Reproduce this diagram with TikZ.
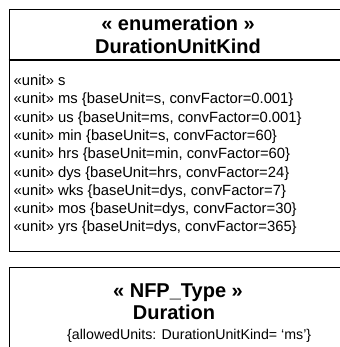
\documentclass[tikz,border=0pt]{standalone}
\usepackage{fontspec}
\setmainfont{Liberation Sans}
\begin{document}
\begin{tikzpicture}[x=1pt,y=-1pt,
  box/.style={draw=black,line width=1.3pt,rectangle,inner sep=0pt,anchor=north west},
  head/.style={font=\fontsize{20}{24}\selectfont\bfseries,inner sep=0pt,anchor=base},
  item/.style={font=\fontsize{14.8}{17}\selectfont,inner sep=0pt,anchor=base west},
  note/.style={font=\fontsize{14.2}{17}\selectfont,inner sep=0pt,anchor=base west}]
\useasboundingbox (0,0) rectangle (339,347);
% enumeration box
\node[box,minimum width=339pt,minimum height=242pt] (enum) at (8.5,9) {};
\coordinate (divL) at (8.5,60);
\coordinate (divR) at (347.5,60);
\draw[line width=1.3pt] (divL) -- (divR);
\node[head] (st1) at (178,31) {« enumeration »};
\node[head] (nm1) at (178,54) {DurationUnitKind};
\node[item] (l1) at (13.5,85.5) {«unit» s};
\node[item] (l2) at (13.5,103.8) {«unit» ms \{baseUnit=s, convFactor=0.001\}};
\node[item] (l3) at (13.5,122.1) {«unit» us \{baseUnit=ms, convFactor=0.001\}};
\node[item] (l4) at (13.5,140.4) {«unit» min \{baseUnit=s, convFactor=60\}};
\node[item] (l5) at (13.5,158.7) {«unit» hrs \{baseUnit=min, convFactor=60\}};
\node[item] (l6) at (13.5,177.0) {«unit» dys \{baseUnit=hrs, convFactor=24\}};
\node[item] (l7) at (13.5,195.3) {«unit» wks \{baseUnit=dys, convFactor=7\}};
\node[item] (l8) at (13.5,213.6) {«unit» mos \{baseUnit=dys, convFactor=30\}};
\node[item] (l9) at (13.5,231.9) {«unit» yrs \{baseUnit=dys, convFactor=365\}};
% NFP type box
\node[box,minimum width=339pt,minimum height=100pt] (nfp) at (8.5,267) {};
\node[head] (st2) at (178,297) {« NFP\_Type »};
\node[head] (nm2) at (174,319) {Duration};
\node[note] (cn) at (67,339) {\{allowedUnits: DurationUnitKind= ‘ms’\}};
\end{tikzpicture}
\end{document}
